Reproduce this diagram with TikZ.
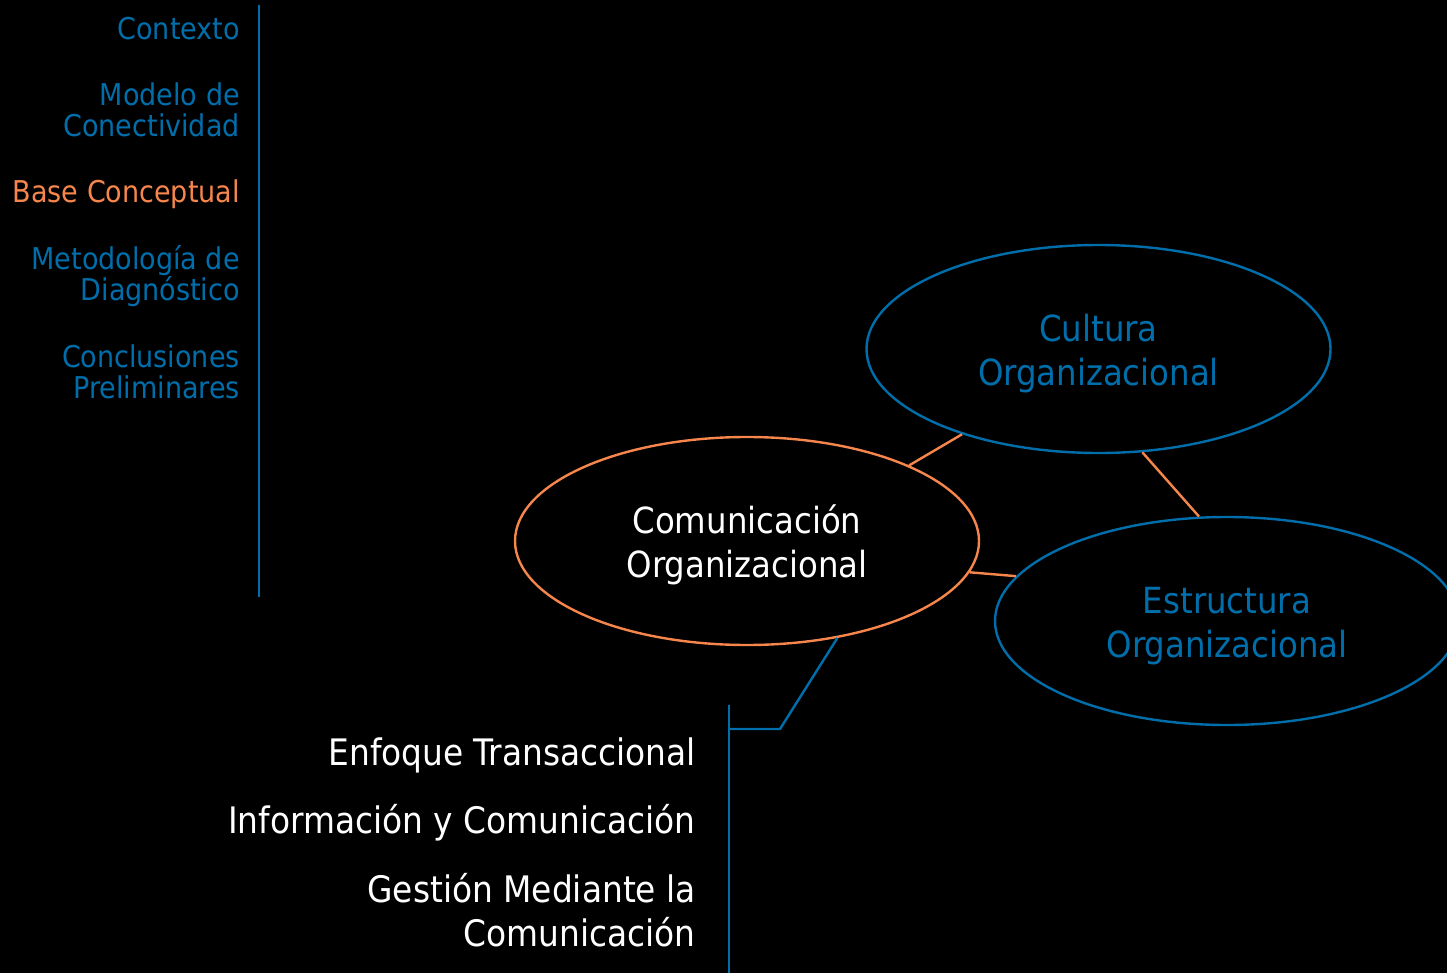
\documentclass[tikz,border=0pt]{standalone}
\usepackage{fontspec}
\setmainfont{DejaVu Sans Condensed}
\usetikzlibrary{shapes.geometric}
\definecolor{blueC}{RGB}{0,110,170}
\definecolor{orangeC}{RGB}{246,134,76}
\newcommand{\elltext}[2]{\raisebox{-6pt}[\height][\depth]{\begin{tabular}{@{}c@{}}#1\\#2\end{tabular}}}
\begin{document}
\begin{tikzpicture}[x=1pt,y=-1pt,
  ell/.style={ellipse, minimum width=464pt, minimum height=208pt, inner sep=0pt, line width=2.4pt, font=\fontsize{36}{44}\selectfont},
  menu/.style={anchor=base east, inner sep=0pt, text=blueC, font=\fontsize{30}{31}\selectfont},
  item/.style={anchor=base east, inner sep=0pt, text=white, font=\fontsize{36.5}{44}\selectfont},
  bl/.style={draw=blueC, line width=2.4pt},
  ol/.style={draw=orangeC, line width=2.4pt}]
\fill[black] (0,0) rectangle (1447,973);
\useasboundingbox (0,0) rectangle (1447,973);
\clip (0,0) rectangle (1447,973);
% left menu
\node[menu] (m1) at (240,40) {Contexto};
\node[menu] (m2a) at (240,106) {Modelo de};
\node[menu] (m2b) at (240,137) {Conectividad};
\node[menu, text=orangeC] (m3) at (240,203) {Base Conceptual};
\node[menu] (m4a) at (240,270) {Metodología de};
\node[menu] (m4b) at (240,301) {Diagnóstico};
\node[menu] (m5a) at (240,367) {Conclusiones};
\node[menu] (m5b) at (240,398) {Preliminares};
\coordinate (lt) at (259,5);
\coordinate (lb) at (259,597);
\draw[bl] (lt) -- (lb);
% ellipses
\node[ell, draw=blueC, text=blueC] (cult) at (1098.5,349) {\elltext{Cultura}{Organizacional}};
\node[ell, draw=orangeC, text=white] (com) at (747,541) {\elltext{Comunicación}{Organizacional}};
\node[ell, draw=blueC, text=blueC] (est) at (1227,621) {\elltext{Estructura}{Organizacional}};
\draw[ol] (com.25) -- (cult.212.5);
\draw[ol] (cult.-67) -- (est.105.6);
\draw[ol] (com.-8.2) -- (est.168.5);
% bottom list
\coordinate (j) at (780,729);
\coordinate (jv) at (729,729);
\coordinate (bt) at (729,705);
\coordinate (bb) at (729,973);
\draw[bl] (com.-47) -- (j) -- (jv);
\draw[bl] (bt) -- (bb);
\node[item] (i1) at (696,765) {Enfoque Transaccional};
\node[item] (i2) at (696,833) {Información y Comunicación};
\node[item] (i3a) at (696,902) {Gestión Mediante la};
\node[item] (i3b) at (696,946) {Comunicación};
\end{tikzpicture}
\end{document}
